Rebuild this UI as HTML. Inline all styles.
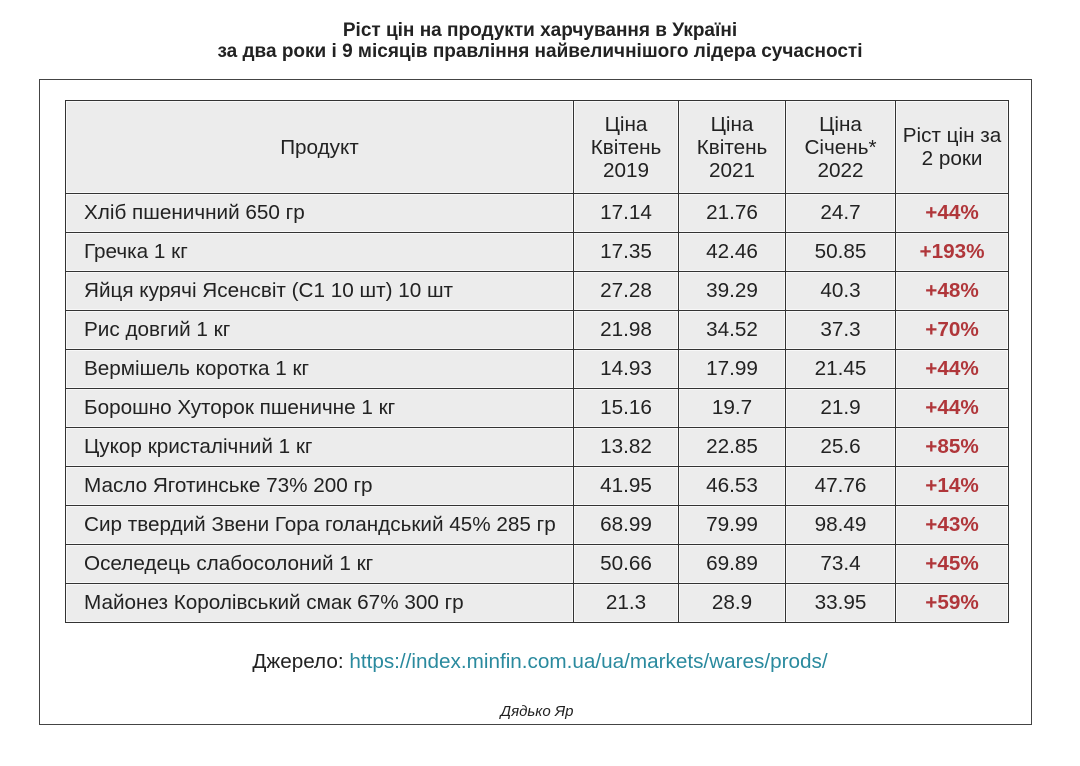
<!DOCTYPE html>
<html><head><meta charset="utf-8"><style>
body{margin:0;width:1080px;height:766px;background:#fff;font-family:"Liberation Sans",sans-serif;color:#222;position:relative;overflow:hidden}
.t{position:absolute;left:0;width:1080px;text-align:center;font-weight:bold;font-size:19px;line-height:21px}
.box{position:absolute;left:39px;top:79px;width:993px;height:646px;border:1px solid #444;box-sizing:border-box}
table{position:absolute;left:65px;top:100px;border-collapse:collapse;font-size:20.7px}
td{border:1px solid #333;background:#ececec;height:38px;padding:0;text-align:center;box-shadow:inset 0 0 0 1px #f8f8f8;white-space:nowrap}
td.p{text-align:left;padding-left:18px}
td.r{color:#b0363a;font-weight:bold}
tr.h td{height:92px;line-height:23px}
</style></head><body>
<div class="t" style="top:20px">Ріст цін на продукти харчування в Україні</div>
<div class="t" style="top:41px">за два роки і 9 місяців правління найвеличнішого лідера сучасності</div>
<div class="box"></div>
<table>
<colgroup><col style="width:508px"><col style="width:105px"><col style="width:107px"><col style="width:110px"><col style="width:113px"></colgroup>
<tr class="h"><td>Продукт</td><td>Ціна<br>Квітень<br>2019</td><td>Ціна<br>Квітень<br>2021</td><td>Ціна<br>Січень*<br>2022</td><td>Ріст цін за<br>2 роки</td></tr>
<tr><td class="p">Хліб пшеничний 650 гр</td><td>17.14</td><td>21.76</td><td>24.7</td><td class="r">+44%</td></tr>
<tr><td class="p">Гречка 1 кг</td><td>17.35</td><td>42.46</td><td>50.85</td><td class="r">+193%</td></tr>
<tr><td class="p">Яйця курячі Ясенсвіт (С1 10 шт) 10 шт</td><td>27.28</td><td>39.29</td><td>40.3</td><td class="r">+48%</td></tr>
<tr><td class="p">Рис довгий 1 кг</td><td>21.98</td><td>34.52</td><td>37.3</td><td class="r">+70%</td></tr>
<tr><td class="p">Вермішель коротка 1 кг</td><td>14.93</td><td>17.99</td><td>21.45</td><td class="r">+44%</td></tr>
<tr><td class="p">Борошно Хуторок пшеничне 1 кг</td><td>15.16</td><td>19.7</td><td>21.9</td><td class="r">+44%</td></tr>
<tr><td class="p">Цукор кристалічний 1 кг</td><td>13.82</td><td>22.85</td><td>25.6</td><td class="r">+85%</td></tr>
<tr><td class="p">Масло Яготинське 73% 200 гр</td><td>41.95</td><td>46.53</td><td>47.76</td><td class="r">+14%</td></tr>
<tr><td class="p">Сир твердий Звени Гора голандський 45% 285 гр</td><td>68.99</td><td>79.99</td><td>98.49</td><td class="r">+43%</td></tr>
<tr><td class="p">Оселедець слабосолоний 1 кг</td><td>50.66</td><td>69.89</td><td>73.4</td><td class="r">+45%</td></tr>
<tr><td class="p">Майонез Королівський смак 67% 300 гр</td><td>21.3</td><td>28.9</td><td>33.95</td><td class="r">+59%</td></tr>
</table>
<div style="position:absolute;left:0;width:1080px;top:650px;text-align:center;font-size:20.7px">Джерело: <span style="color:#2a8a9e">https://index.minfin.com.ua/ua/markets/wares/prods/</span></div>
<div style="position:absolute;left:0;width:1074px;top:703px;text-align:center;font-size:15px;font-style:italic">Дядько Яр</div>
</body></html>
